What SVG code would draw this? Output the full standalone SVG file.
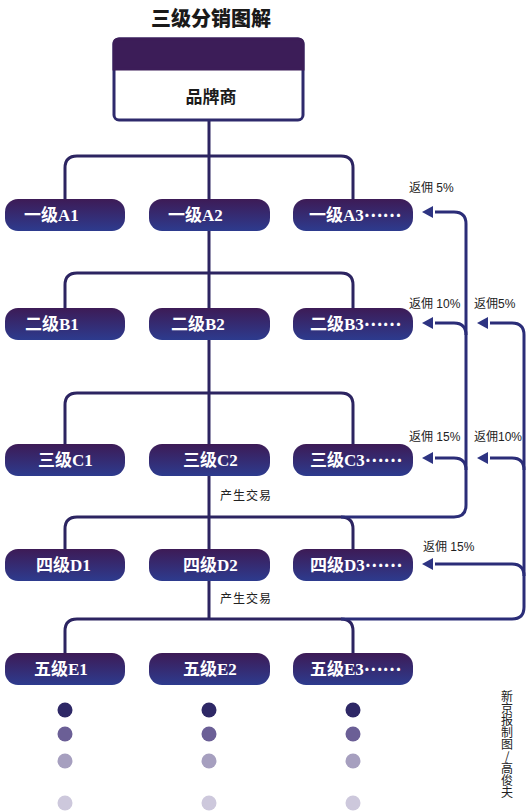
<svg xmlns="http://www.w3.org/2000/svg" width="529" height="811" viewBox="0 0 529 811">
<defs>
<linearGradient id="pill" x1="0" y1="0" x2="0" y2="1">
<stop offset="0" stop-color="#3d1b56"/>
<stop offset="1" stop-color="#2d3b8e"/>
</linearGradient>
<marker id="arr" viewBox="0 0 11 12" refX="-2" refY="6" markerWidth="11" markerHeight="12" markerUnits="userSpaceOnUse" orient="auto">
<path d="M0,0 L11,6 L0,12 Z" fill="#2e3482"/>
</marker>
<style>
.pill{fill:url(#pill);}
.pt{font-family:'Liberation Serif','Noto Sans CJK SC',serif;font-weight:bold;font-size:17px;fill:#fff;}
.el{font-family:'Noto Sans CJK SC',sans-serif;baseline-shift:4px;}
.tree{fill:none;stroke:#2c2461;stroke-width:3;}
.ret{fill:none;stroke:#2b2d78;stroke-width:3;}
.lbl{font-family:'Liberation Sans','Noto Sans CJK SC',sans-serif;font-size:12px;fill:#222;}
</style>
</defs>
<rect width="529" height="811" fill="#fff"/>
<text x="211" y="26" text-anchor="middle" font-family="'Noto Sans CJK SC',sans-serif" font-weight="900" font-size="20" fill="#1a1a1a">三级分销图解</text>

<g id="connectors">
<line class="tree" x1="209" y1="120" x2="209" y2="619"/>
<path class="tree" d="M65 199 V168 Q65 156 77 156 H341 Q353 156 353 168 V199"/>
<path class="tree" d="M65 308 V285 Q65 273 77 273 H341 Q353 273 353 285 V308"/>
<path class="tree" d="M65 444 V405 Q65 393 77 393 H341 Q353 393 353 405 V444"/>
<path class="tree" d="M65 549 V529 Q65 517 77 517 H341 Q353 517 353 529 V549"/>
<path class="tree" d="M65 653 V631 Q65 619 77 619 H341 Q353 619 353 631 V653"/>
<path class="ret" d="M341 517 H454 Q466 517 466 505 V224 Q466 212 454 212 H435" marker-end="url(#arr)"/>
<path class="ret" d="M466 335 Q466 323 454 323 H435" marker-end="url(#arr)"/>
<path class="ret" d="M466 470 Q466 458 454 458 H435" marker-end="url(#arr)"/>
<path class="ret" d="M341 619 H512 Q524 619 524 607 V335 Q524 323 512 323 H490" marker-end="url(#arr)"/>
<path class="ret" d="M524 470 Q524 458 512 458 H490" marker-end="url(#arr)"/>
<path class="ret" d="M524 576 Q524 564 512 564 H435" marker-end="url(#arr)"/>
</g>

<g id="brand">
<rect x="114" y="39" width="189" height="81" rx="5" fill="#fff" stroke="#2e2a6c" stroke-width="3"/>
<path d="M114 69 V44 Q114 39 119 39 H298 Q303 39 303 44 V69 Z" fill="#3c1d58" stroke="#3c1d58" stroke-width="3"/>
<text x="211" y="103" text-anchor="middle" font-family="'Noto Sans CJK SC',sans-serif" font-weight="bold" font-size="17" fill="#1a1a1a">品牌商</text>
</g>

<g id="A1"><rect class="pill" x="5" y="199" width="120" height="32" rx="13"/><text class="pt" x="24" y="221">一级A1</text></g>
<g id="A2"><rect class="pill" x="149" y="199" width="121" height="32" rx="13"/><text class="pt" x="168" y="221">一级A2</text></g>
<g id="A3"><rect class="pill" x="293" y="199" width="120" height="32" rx="13"/><text class="pt" x="309" y="221">一级A3<tspan class="el">……</tspan></text></g>

<g id="B1"><rect class="pill" x="5" y="308" width="120" height="32" rx="13"/><text class="pt" x="25" y="330">二级B1</text></g>
<g id="B2"><rect class="pill" x="149" y="308" width="121" height="32" rx="13"/><text class="pt" x="171" y="330">二级B2</text></g>
<g id="B3"><rect class="pill" x="293" y="308" width="120" height="32" rx="13"/><text class="pt" x="310" y="330">二级B3<tspan class="el">……</tspan></text></g>

<g id="C1"><rect class="pill" x="5" y="444" width="120" height="32" rx="13"/><text class="pt" x="38" y="466">三级C1</text></g>
<g id="C2"><rect class="pill" x="149" y="444" width="121" height="32" rx="13"/><text class="pt" x="183" y="466">三级C2</text></g>
<g id="C3"><rect class="pill" x="293" y="444" width="120" height="32" rx="13"/><text class="pt" x="310" y="466">三级C3<tspan class="el">……</tspan></text></g>

<g id="D1"><rect class="pill" x="5" y="549" width="120" height="32" rx="13"/><text class="pt" x="36" y="571">四级D1</text></g>
<g id="D2"><rect class="pill" x="149" y="549" width="121" height="32" rx="13"/><text class="pt" x="183" y="571">四级D2</text></g>
<g id="D3"><rect class="pill" x="293" y="549" width="120" height="32" rx="13"/><text class="pt" x="310" y="571">四级D3<tspan class="el">……</tspan></text></g>

<g id="E1"><rect class="pill" x="5" y="653" width="120" height="32" rx="13"/><text class="pt" x="34" y="675">五级E1</text></g>
<g id="E2"><rect class="pill" x="149" y="653" width="121" height="32" rx="13"/><text class="pt" x="183" y="675">五级E2</text></g>
<g id="E3"><rect class="pill" x="293" y="653" width="120" height="32" rx="13"/><text class="pt" x="310" y="675">五级E3<tspan class="el">……</tspan></text></g>

<g id="labels">
<text class="lbl" x="409" y="192">返佣 5%</text>
<text class="lbl" x="409" y="308">返佣 10%</text>
<text class="lbl" x="474" y="308">返佣5%</text>
<text class="lbl" x="409" y="441">返佣 15%</text>
<text class="lbl" x="474" y="441">返佣10%</text>
<text class="lbl" x="423" y="551">返佣 15%</text>
<text class="lbl" x="220" y="500" letter-spacing="1">产生交易</text>
<text class="lbl" x="220" y="603" letter-spacing="1">产生交易</text>
</g>

<g id="dots">
<circle cx="65" cy="710" r="7.5" fill="#2e2866"/><circle cx="209" cy="710" r="7.5" fill="#2e2866"/><circle cx="353" cy="710" r="7.5" fill="#2e2866"/>
<circle cx="65" cy="734" r="7.5" fill="#6b5f96"/><circle cx="209" cy="734" r="7.5" fill="#6b5f96"/><circle cx="353" cy="734" r="7.5" fill="#6b5f96"/>
<circle cx="65" cy="761" r="7.5" fill="#a69fbf"/><circle cx="209" cy="761" r="7.5" fill="#a69fbf"/><circle cx="353" cy="761" r="7.5" fill="#a69fbf"/>
<circle cx="65" cy="803" r="7.5" fill="#cdc8dc"/><circle cx="209" cy="803" r="7.5" fill="#cdc8dc"/><circle cx="353" cy="803" r="7.5" fill="#cdc8dc"/>
</g>

<text id="credit" x="507" y="690" font-family="'Noto Sans CJK SC',sans-serif" font-size="12" fill="#222" style="writing-mode:vertical-rl;text-orientation:upright">新京报制图/高俊夫</text>
</svg>
